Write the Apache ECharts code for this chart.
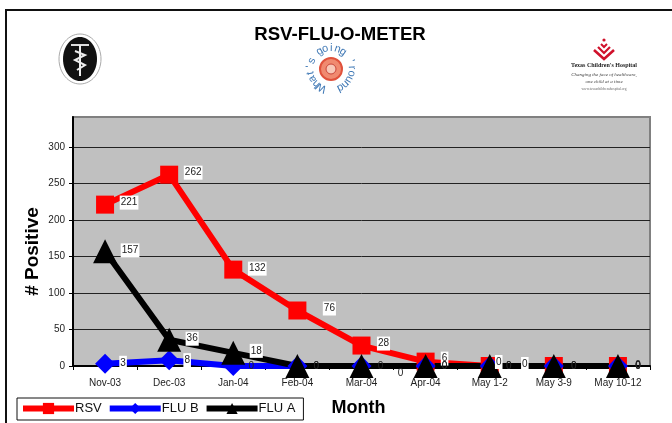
<!DOCTYPE html>
<html>
<head>
<meta charset="utf-8">
<title>RSV-FLU-O-METER</title>
<script src="https://cdn.jsdelivr.net/npm/echarts@6/dist/echarts.min.js"></script>
<style>
  html, body { margin: 0; padding: 0; background: #fff; }
  #main { width: 672px; height: 423px; }
</style>
</head>
<body>
<div id="main"></div>
<script>
const months = ['Nov-03', 'Dec-03', 'Jan-04', 'Feb-04', 'Mar-04', 'Apr-04', 'May 1-2', 'May 3-9', 'May 10-12'];
const rsv = [221, 262, 132, 76, 28, 6, 0, 0, 0];
const fluB = [3, 8, 0, 0, 0, 0, 0, 0, 0];
const fluA = [157, 36, 18, 0, 0, 0, 0, 0, 0];

// where each value label sits relative to its point
const rsvLabelOffset = [[24, -2], [24, -2], [24, -1], [32, -2], [22, -2], [19, -3], [9, -4], [-29, -2], [20, -1]];
const fluBLabelOffset = [[18, -1], [18, 0], [18, 0], [19, 0], [19, 0], [19, 0], [19, 0], [20, 0], [20, 0]];
const fluALabelOffset = [[25, -1], [23, -1], [23, -2], [19, 0], [39, 7], [19, 0], [19, 0], [20, 0], [20, 0]];
// the zero labels mostly have no white box
const rsvLabelBox = [1, 1, 1, 1, 1, 1, 1, 1, 0];
const fluBLabelBox = [1, 1, 0, 0, 0, 0, 0, 0, 0];
const fluALabelBox = [1, 1, 1, 0, 0, 0, 0, 0, 0];

const chart = echarts.init(document.getElementById('main'));

function withLabels(values, offsets, boxes) {
  return values.map((v, i) => ({
    value: v,
    label: {
      show: true,
      position: 'inside',
      offset: offsets[i],
      color: '#222',
      fontSize: 10,
      fontFamily: 'Liberation Sans',
      padding: [2, 1],
      backgroundColor: boxes[i] ? '#fff' : 'transparent'
    }
  }));
}

function makeSeries(name, values, color, symbol, size, offsets, boxes) {
  return {
    name: name,
    type: 'line',
    data: withLabels(values, offsets, boxes),
    symbol: symbol,
    symbolSize: size,
    clip: false,
    lineStyle: { color: color, width: 6 },
    itemStyle: { color: color }
  };
}

// logo text around the middle circle, clockwise from bottom left
const roundText = "What's going 'round";
const logoChars = roundText.split('').map((ch, i) => {
  const a = (118 + i * 17) * Math.PI / 180;
  return {
    type: 'text',
    x: 331 + Math.cos(a) * 21,
    y: 69 + Math.sin(a) * 21,
    rotation: -(a + Math.PI / 2),
    style: { text: ch, fontSize: 11, fontFamily: 'Liberation Sans', fill: '#3f78b5', align: 'center', verticalAlign: 'middle' }
  };
});

const option = {
  animation: false,
  backgroundColor: '#fff',
  textStyle: { fontFamily: 'Liberation Sans' },
  title: {
    text: 'RSV-FLU-O-METER',
    left: 335,
    top: 20,
    textAlign: 'center',
    textStyle: { fontSize: 18.6, fontWeight: 'bold', color: '#000', fontFamily: 'Liberation Sans' }
  },
  legend: {
    left: 17,
    top: 398,
    padding: [4, 8, 5, 3],
    itemGap: 5,
    itemWidth: 51,
    itemHeight: 14,
    borderColor: '#111',
    borderWidth: 1,
    lineStyle: { width: 6 },
    textStyle: { fontSize: 13, color: '#111', fontFamily: 'Liberation Sans', padding: [0, 0, 0, -4] },
    data: ['RSV', 'FLU B', 'FLU A']
  },
  grid: {
    left: 73,
    right: 22,
    top: 117,
    bottom: 57,
    show: true,
    backgroundColor: '#c0c0c0',
    borderColor: '#808080',
    borderWidth: 2
  },
  xAxis: {
    type: 'category',
    data: months,
    name: 'Month',
    nameLocation: 'middle',
    nameGap: 33,
    nameTextStyle: { fontSize: 18, fontWeight: 'bold', color: '#000', padding: [0, 6, 0, 0] },
    axisLine: { lineStyle: { color: '#000', width: 2 } },
    axisTick: { show: true, alignWithLabel: false, length: 4, lineStyle: { color: '#000' } },
    axisLabel: { color: '#222', fontSize: 10, margin: 12, interval: 0 },
    splitLine: { show: false }
  },
  yAxis: {
    type: 'value',
    min: 0,
    max: 341,
    interval: 50,
    name: '# Positive',
    nameLocation: 'middle',
    nameGap: 31,
    nameMoveOverlap: false,
    nameTextStyle: { fontSize: 19, fontWeight: 'bold', color: '#000', padding: [0, 20, 0, 0] },
    axisLine: { show: true, lineStyle: { color: '#000', width: 2 } },
    axisTick: { show: true, length: 4, lineStyle: { color: '#000' } },
    axisLabel: { color: '#222', fontSize: 10, margin: 8, showMaxLabel: false },
    splitLine: { show: true, lineStyle: { color: '#222', width: 1 }, showMaxLine: false }
  },
  series: [
    makeSeries('RSV', rsv, '#ff0000', 'rect', 18, rsvLabelOffset, rsvLabelBox),
    makeSeries('FLU B', fluB, '#0000ff', 'diamond', 20, fluBLabelOffset, fluBLabelBox),
    makeSeries('FLU A', fluA, '#000000', 'triangle', 24, fluALabelOffset, fluALabelBox)
  ],
  graphic: [
    // page frame, runs off the right and bottom edges
    { type: 'rect', z: -1, shape: { x: 6, y: 10, width: 700, height: 450 }, style: { fill: 'none', stroke: '#111', lineWidth: 2 } },
    // left seal
    { type: 'ellipse', shape: { cx: 80, cy: 59, rx: 21, ry: 25 }, style: { fill: '#fff', stroke: '#aaa', lineWidth: 1 } },
    { type: 'ellipse', shape: { cx: 80, cy: 59, rx: 17, ry: 22 }, style: { fill: '#111' } },
    { type: 'line', shape: { x1: 71, y1: 45, x2: 89, y2: 45 }, style: { stroke: '#ddd', lineWidth: 2 } },
    { type: 'line', shape: { x1: 80, y1: 45, x2: 80, y2: 76 }, style: { stroke: '#eee', lineWidth: 2 } },
    { type: 'polyline', shape: { points: [[75, 51], [85, 55], [75, 60], [85, 65], [77, 70]] }, style: { fill: 'none', stroke: '#eee', lineWidth: 2 } },
    // middle logo
    { type: 'circle', shape: { cx: 331, cy: 69, r: 11 }, style: { fill: '#f08a70', stroke: '#e0523c', lineWidth: 2 } },
    { type: 'circle', shape: { cx: 331, cy: 69, r: 5 }, style: { fill: '#f8c8b8', stroke: '#c9453a', lineWidth: 1 } },
    ...logoChars,
    // right logo
    { type: 'circle', shape: { cx: 604, cy: 40, r: 1.6 }, style: { fill: '#d0112b' } },
    { type: 'polyline', shape: { points: [[601, 44], [604, 47], [607, 44]] }, style: { fill: 'none', stroke: '#d0112b', lineWidth: 2 } },
    { type: 'polyline', shape: { points: [[598, 47], [604, 53], [610, 47]] }, style: { fill: 'none', stroke: '#d0112b', lineWidth: 2.2 } },
    { type: 'polyline', shape: { points: [[594, 50], [604, 59], [614, 50]] }, style: { fill: 'none', stroke: '#d0112b', lineWidth: 2.6 } },
    { type: 'text', x: 604, y: 65, style: { text: "Texas Children's Hospital", fontSize: 6, fontWeight: 'bold', fontFamily: 'Liberation Serif', fill: '#222', align: 'center', verticalAlign: 'middle' } },
    { type: 'text', x: 604, y: 75, style: { text: 'Changing the face of healthcare,', fontSize: 5, fontStyle: 'italic', fontFamily: 'Liberation Serif', fill: '#444', align: 'center', verticalAlign: 'middle' } },
    { type: 'text', x: 604, y: 82, style: { text: 'one child at a time', fontSize: 5, fontStyle: 'italic', fontFamily: 'Liberation Serif', fill: '#444', align: 'center', verticalAlign: 'middle' } },
    { type: 'text', x: 604, y: 89, style: { text: 'www.texaschildrenshospital.org', fontSize: 3.5, fontFamily: 'Liberation Serif', fill: '#666', align: 'center', verticalAlign: 'middle' } }
  ]
};

chart.setOption(option);
</script>
</body>
</html>
